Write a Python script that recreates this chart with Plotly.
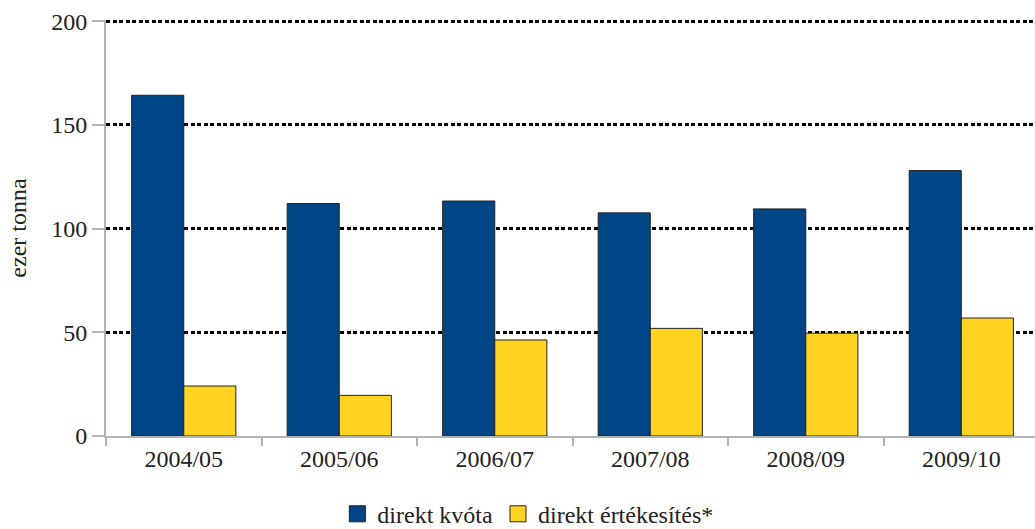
import plotly.graph_objects as go

categories = ["2004/05", "2005/06", "2006/07", "2007/08", "2008/09", "2009/10"]
direkt_kvota = [164.3, 112.1, 113.3, 107.6, 109.5, 128.0]
direkt_ertekesites = [24.1, 19.6, 46.3, 51.9, 49.6, 56.9]
series_names = ["direkt kvóta", "direkt értékesítés*"]
series_colors = ["#004586", "#ffd320"]
y_ticks = [0, 50, 100, 150, 200]

FONT = "Liberation Serif"
FS = 24
fig = go.Figure()
for vals, name, col in zip([direkt_kvota, direkt_ertekesites], series_names, series_colors):
    fig.add_trace(go.Bar(x=categories, y=vals, name=name, showlegend=False,
                         marker=dict(color=col, line=dict(color="#222222", width=1))))
# legend entries with larger square swatches
for name, col in zip(series_names, series_colors):
    fig.add_trace(go.Scatter(x=[None], y=[None], mode="markers", name=name,
                             marker=dict(symbol="square", size=17, color=col,
                                         line=dict(color="#222222", width=1))))

fig.update_layout(
    width=1035, height=529,
    margin=dict(l=106, r=0, t=20, b=93, autoexpand=False),
    paper_bgcolor="white", plot_bgcolor="white",
    barmode="group", bargap=0.33, bargroupgap=0,
    font=dict(family=FONT, size=FS, color="#222222"),
    showlegend=True,
    legend=dict(orientation="h", x=0.51, xanchor="center", xref="container",
                y=0.028, yanchor="middle", yref="container",
                font=dict(family=FONT, size=FS, color="#222222"), itemwidth=30,
                traceorder="normal"),
    xaxis=dict(type="category", range=[-0.5, 5.474], showline=True, linecolor="#b3b3b3",
               linewidth=2, ticks="outside", tickson="boundaries", ticklen=8,
               tickcolor="#b3b3b3", tickwidth=2, showgrid=False, automargin=False,
               tickfont=dict(family=FONT, size=FS, color="#222222")),
    yaxis=dict(range=[0, 200.6], tickvals=y_ticks, showline=True, linecolor="#b3b3b3",
               linewidth=2, ticks="outside", ticklen=12, tickcolor="#b3b3b3", tickwidth=2,
               showgrid=True, gridcolor="black", gridwidth=2.5, griddash="4px,2.5px",
               zeroline=False, automargin=False,
               title=dict(text="ezer tonna", standoff=18, font=dict(family=FONT, size=FS)),
               tickfont=dict(family=FONT, size=FS, color="#222222")),
)
fig.write_html("out.html", config={"displayModeBar": False},
               post_script="document.body.style.margin='0';document.body.style.overflow='hidden';")
